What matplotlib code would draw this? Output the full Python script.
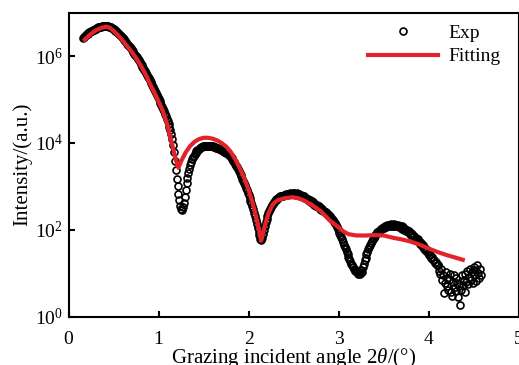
import numpy as np
import matplotlib
matplotlib.use('Agg')
import matplotlib.pyplot as plt
from matplotlib.lines import Line2D

plt.rcParams['font.family'] = ['Liberation Serif', 'DejaVu Serif']
plt.rcParams['mathtext.fontset'] = 'custom'
plt.rcParams['mathtext.rm'] = 'Liberation Serif'
plt.rcParams['mathtext.it'] = 'Liberation Serif:italic'

# measured reflectivity, log10(intensity), scan from 0.16 deg in 0.01 deg steps
exp_start = 0.16
exp_step = 0.01
exp_log = [
    6.42, 6.44, 6.46, 6.48,
    6.50, 6.52, 6.53, 6.55, 6.56, 6.58, 6.59, 6.60, 6.61, 6.62,
    6.63, 6.64, 6.65, 6.66, 6.67, 6.67, 6.68, 6.69, 6.69, 6.70,
    6.70, 6.70, 6.70, 6.69, 6.69, 6.68, 6.67, 6.66, 6.65, 6.63,
    6.62, 6.60, 6.59, 6.57, 6.55, 6.53, 6.51, 6.49, 6.46, 6.44,
    6.42, 6.39, 6.37, 6.34, 6.32, 6.29, 6.26, 6.24, 6.21, 6.18,
    6.15, 6.12, 6.09, 6.06, 6.03, 6.00, 5.97, 5.93, 5.90, 5.87,
    5.83, 5.80, 5.76, 5.72, 5.69, 5.65, 5.61, 5.57, 5.53, 5.49,
    5.45, 5.41, 5.37, 5.33, 5.28, 5.24, 5.20, 5.15, 5.11, 5.06,
    5.02, 4.97, 4.92, 4.88, 4.83, 4.78, 4.73, 4.67, 4.62, 4.56,
    4.50, 4.44, 4.37, 4.29, 4.20, 4.09, 3.95, 3.80, 3.58, 3.38,
    3.18, 3.00, 2.83, 2.68, 2.55, 2.47, 2.46, 2.52, 2.62, 2.76,
    2.92, 3.07, 3.20, 3.31, 3.41, 3.49, 3.56, 3.62, 3.67, 3.71,
    3.75, 3.78, 3.81, 3.83, 3.85, 3.87, 3.89, 3.90, 3.91, 3.92,
    3.93, 3.93, 3.94, 3.94, 3.94, 3.94, 3.94, 3.93, 3.93, 3.92,
    3.92, 3.91, 3.90, 3.90, 3.89, 3.89, 3.88, 3.87, 3.86, 3.85,
    3.84, 3.83, 3.82, 3.80, 3.79, 3.78, 3.76, 3.74, 3.72, 3.70,
    3.68, 3.65, 3.62, 3.59, 3.56, 3.52, 3.48, 3.44, 3.40, 3.36,
    3.32, 3.27, 3.23, 3.18, 3.13, 3.08, 3.03, 2.97, 2.92, 2.86,
    2.80, 2.74, 2.67, 2.61, 2.54, 2.47, 2.39, 2.31, 2.23, 2.14,
    2.05, 1.96, 1.87, 1.80, 1.77, 1.82, 1.90, 2.00, 2.09, 2.17,
    2.25, 2.32, 2.38, 2.44, 2.49, 2.53, 2.57, 2.60, 2.63, 2.66,
    2.68, 2.70, 2.72, 2.74, 2.75, 2.77, 2.78, 2.79, 2.78, 2.80,
    2.81, 2.80, 2.82, 2.81, 2.83, 2.82, 2.84, 2.82, 2.83, 2.85,
    2.82, 2.84, 2.83, 2.81, 2.84, 2.80, 2.82, 2.79, 2.81, 2.77,
    2.79, 2.75, 2.77, 2.73, 2.74, 2.70, 2.72, 2.67, 2.69, 2.64,
    2.66, 2.61, 2.63, 2.58, 2.60, 2.55, 2.57, 2.52, 2.54, 2.49,
    2.50, 2.46, 2.47, 2.43, 2.44, 2.40, 2.41, 2.37, 2.37, 2.33,
    2.33, 2.29, 2.28, 2.24, 2.22, 2.18, 2.15, 2.11, 2.07, 2.03,
    1.98, 1.93, 1.88, 1.83, 1.78, 1.72, 1.66, 1.60, 1.55, 1.49,
    1.44, 1.38, 1.33, 1.28, 1.22, 1.18, 1.14, 1.10, 1.06, 1.08,
    1.02, 1.05, 0.98, 1.03, 0.99, 1.08, 1.04, 1.15, 1.22, 1.30,
    1.36, 1.44, 1.50, 1.56, 1.61, 1.66, 1.70, 1.74, 1.78, 1.82,
    1.85, 1.88, 1.91, 1.94, 1.96, 1.98, 2.00, 2.02, 2.04, 2.05,
    2.07, 2.05, 2.09, 2.07, 2.11, 2.08, 2.12, 2.09, 2.13, 2.10,
    2.12, 2.09, 2.13, 2.10, 2.12, 2.08, 2.11, 2.07, 2.10, 2.05,
    2.08, 2.03, 2.06, 2.00, 2.03, 1.97, 2.00, 1.94, 1.97, 1.91,
    1.93, 1.88, 1.90, 1.84, 1.86, 1.80, 1.82, 1.76, 1.78, 1.72,
    1.73, 1.67, 1.69, 1.62, 1.64, 1.57, 1.58, 1.52, 1.53, 1.46,
    1.48, 1.41, 1.42, 1.35, 1.37, 1.30, 1.31, 1.24, 1.25, 1.18,
    1.20, 1.18, 1.05, 0.98, 1.10, 0.85, 0.95, 0.55, 0.78, 1.02,
    0.70, 0.90, 0.62, 0.85, 0.98, 0.58, 0.48, 0.80, 0.95, 0.68,
    0.88, 0.60, 0.78, 0.45, 0.70, 0.28, 0.62, 0.95, 0.72, 0.85,
    0.58, 0.98, 0.80, 1.05, 0.75, 0.92, 1.10, 0.85, 1.02, 0.78,
    1.15, 0.95, 1.08, 0.82, 1.20, 1.00, 0.88, 1.10, 0.95,
]

# fitted curve
fit_angle = [0.18, 0.22, 0.26, 0.30, 0.34, 0.38, 0.42, 0.46, 0.50, 0.55,
             0.60, 0.65, 0.70, 0.75, 0.80, 0.85, 0.90, 0.95, 1.00, 1.05,
             1.10, 1.15, 1.19, 1.22, 1.25, 1.30, 1.35, 1.40, 1.45, 1.50,
             1.55, 1.60, 1.65, 1.70, 1.75, 1.80, 1.85, 1.90, 1.95, 2.00,
             2.05, 2.10, 2.14, 2.18, 2.22, 2.27, 2.32, 2.40, 2.49, 2.55,
             2.60, 2.70, 2.80, 2.90, 3.00, 3.05, 3.11, 3.20, 3.30, 3.40,
             3.50, 3.60, 3.70, 3.80, 3.90, 4.00, 4.10, 4.20, 4.30, 4.38]
fit_log = [6.38, 6.46, 6.53, 6.59, 6.63, 6.66, 6.68, 6.65, 6.58, 6.48,
           6.36, 6.23, 6.10, 5.95, 5.79, 5.60, 5.38, 5.17, 4.95, 4.72,
           4.40, 3.97, 3.62, 3.43, 3.58, 3.78, 3.93, 4.03, 4.09, 4.12,
           4.12, 4.10, 4.06, 4.00, 3.92, 3.80, 3.63, 3.43, 3.20, 2.92,
           2.58, 2.15, 1.75, 2.10, 2.38, 2.59, 2.68, 2.73, 2.75, 2.73,
           2.69, 2.58, 2.43, 2.22, 2.06, 1.97, 1.90, 1.87, 1.87, 1.88,
           1.87, 1.82, 1.78, 1.73, 1.66, 1.57, 1.49, 1.42, 1.36, 1.31]

y_ticks = [1e0, 1e2, 1e4, 1e6]
x_ticks = [0, 1, 2, 3, 4, 5]

exp_angle = np.round(exp_start + exp_step * np.arange(len(exp_log)), 2)
exp_int = 10 ** np.array(exp_log)
fit_int = 10 ** np.array(fit_log)

red = '#e3232a'
ms = 5.0
mew = 1.2

fig = plt.figure(figsize=(5.19, 3.65), dpi=100)
ax = fig.add_axes([0.1322, 0.1323, 0.867, 0.8329])

ax.plot(exp_angle, exp_int, linestyle='none', marker='o', ms=ms,
        mfc='none', mec='black', mew=mew, zorder=2)
ax.plot(fit_angle, fit_int, color=red, lw=3.0, solid_joinstyle='round', zorder=3)

ax.set_yscale('log')
ax.set_xlim(0, 5)
ax.set_ylim(1, 1e7)
ax.set_xticks(x_ticks)
ax.set_yticks(y_ticks)
ax.minorticks_off()

for s in ax.spines.values():
    s.set_linewidth(1.5)
ax.tick_params(direction='in', length=4, width=1.5, labelsize=14)
ax.tick_params(axis='x', pad=10)
ax.tick_params(axis='y', pad=4)

ax.set_xlabel(r'Grazing incident angle 2$\theta$/(°)', fontsize=15, labelpad=-1)
ax.set_ylabel('Intensity/(a.u.)', fontsize=15, labelpad=2)

handles = [
    Line2D([], [], linestyle='none', marker='o', ms=ms, mfc='none',
           mec='black', mew=mew),
    Line2D([], [], color=red, lw=3.0),
]
ax.legend(handles, ['Exp', 'Fitting'], loc='upper right', frameon=False,
          fontsize=14, handlelength=3.6, handletextpad=0.5, labelspacing=0.3,
          borderaxespad=0.2, bbox_to_anchor=(0.985, 1.0))

fig.savefig('out.png', dpi=100)
